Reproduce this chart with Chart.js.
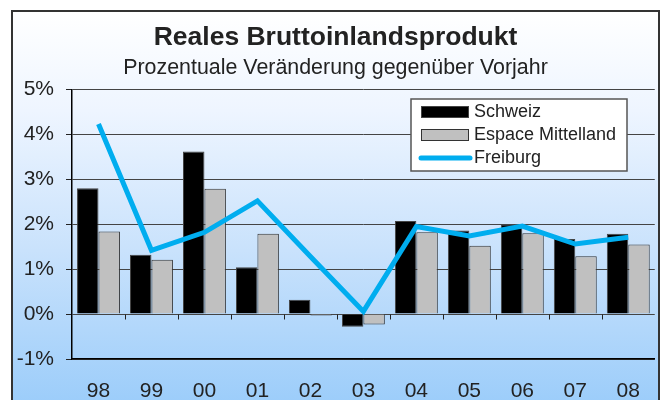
<!DOCTYPE html>
<html>
<head>
<meta charset="utf-8">
<script src="https://cdn.jsdelivr.net/npm/chart.js@4/dist/chart.umd.min.js"></script>
<style>
	html, body { margin: 0; padding: 0; background: #fff; }
	#wrap { width: 660px; height: 400px; }
</style>
</head>
<body>
<div id="wrap"><canvas id="chart" width="660" height="400"></canvas></div>
<script>
// values (percent change on previous year)
const years = ['98', '99', '00', '01', '02', '03', '04', '05', '06', '07', '08'];
const schweiz = [2.80, 1.32, 3.62, 1.04, 0.32, -0.28, 2.07, 1.86, 2.00, 1.67, 1.79];
const espaceMittelland = [1.84, 1.21, 2.79, 1.79, -0.03, -0.23, 1.82, 1.52, 1.80, 1.29, 1.55];
const freiburg = [4.23, 1.42, 1.82, 2.52, 1.28, 0.06, 1.95, 1.74, 1.96, 1.56, 1.71];
const yTicks = [-1, 0, 1, 2, 3, 4, 5];

const fontFamily = '"Liberation Sans", Arial, sans-serif';
const lineBlue = '#00adef';

// background gradient + frame
const backdrop = {
	id: 'backdrop',
	beforeDraw(chart) {
		const ctx = chart.ctx;
		ctx.save();
		ctx.fillStyle = '#ffffff';
		ctx.fillRect(0, 0, chart.width, chart.height);
		const g = ctx.createLinearGradient(0, 11, 0, 410);
		g.addColorStop(0, '#ffffff');
		g.addColorStop(0.25, '#eef5ff');
		g.addColorStop(0.6, '#c9e2fc');
		g.addColorStop(1, '#9accfa');
		ctx.fillStyle = g;
		ctx.fillRect(12, 11, chart.width - 12, chart.height - 11);
		ctx.strokeStyle = '#333';
		ctx.lineWidth = 2;
		ctx.beginPath();
		ctx.moveTo(12, chart.height + 2);
		ctx.lineTo(12, 11);
		ctx.lineTo(659, 11);
		ctx.lineTo(659, chart.height + 2);
		ctx.stroke();
		ctx.restore();
	}
};

// little category tick marks sitting on the 0% line
const zeroTicks = {
	id: 'zeroTicks',
	afterDatasetsDraw(chart) {
		const ctx = chart.ctx;
		const x = chart.scales.x, y = chart.scales.y;
		const y0 = Math.round(y.getPixelForValue(0)) + 0.5;
		const step = (x.right - x.left) / years.length;
		ctx.save();
		ctx.strokeStyle = '#222';
		ctx.lineWidth = 1;
		ctx.beginPath();
		for (let i = 1; i < years.length; i++) {
			const px = Math.round(x.left + i * step) + 0.5;
			ctx.moveTo(px, y0);
			ctx.lineTo(px, y0 + 5);
		}
		ctx.stroke();
		ctx.restore();
	}
};

// boxed legend inside the plot
const boxLegend = {
	id: 'boxLegend',
	afterDraw(chart) {
		const ctx = chart.ctx;
		const bx = 411, by = 99, bw = 216, bh = 72;
		ctx.save();
		ctx.fillStyle = '#ffffff';
		ctx.fillRect(bx, by, bw, bh);
		ctx.strokeStyle = '#555';
		ctx.lineWidth = 1.5;
		ctx.strokeRect(bx, by, bw, bh);
		ctx.font = '18px ' + fontFamily;
		ctx.textBaseline = 'middle';
		chart.data.datasets.forEach((ds, i) => {
			const cy = by + 13 + i * 23;
			if (ds.type === 'line') {
				ctx.strokeStyle = ds.borderColor;
				ctx.lineWidth = 5;
				ctx.lineCap = 'round';
				ctx.beginPath();
				ctx.moveTo(421, cy);
				ctx.lineTo(470, cy);
				ctx.stroke();
			} else {
				ctx.fillStyle = ds.backgroundColor;
				ctx.fillRect(421, cy - 6, 48, 12);
				ctx.strokeStyle = ds.borderColor;
				ctx.lineWidth = 1;
				ctx.strokeRect(421.5, cy - 5.5, 47, 11);
			}
			ctx.fillStyle = '#222';
			ctx.fillText(ds.label, 474, cy);
		});
		ctx.restore();
	}
};

new Chart(document.getElementById('chart'), {
	data: {
		labels: years,
		datasets: [
			{
				type: 'bar',
				label: 'Schweiz',
				data: schweiz,
				backgroundColor: '#000000',
				borderColor: '#444',
				borderWidth: 1,
				barPercentage: 1,
				categoryPercentage: 0.81,
				order: 2
			},
			{
				type: 'bar',
				label: 'Espace Mittelland',
				data: espaceMittelland,
				backgroundColor: '#c0c0c0',
				borderColor: '#333',
				borderWidth: 1,
				barPercentage: 1,
				categoryPercentage: 0.81,
				order: 2
			},
			{
				type: 'line',
				label: 'Freiburg',
				data: freiburg,
				borderColor: lineBlue,
				backgroundColor: lineBlue,
				borderWidth: 5,
				pointRadius: 0,
				tension: 0,
				order: 1
			}
		]
	},
	options: {
		responsive: false,
		animation: false,
		layout: { padding: { left: 12, right: 1, top: 12, bottom: 0 } },
		plugins: {
			legend: { display: false },
			tooltip: { enabled: false },
			title: {
				display: true,
				text: 'Reales Bruttoinlandsprodukt',
				color: '#222',
				font: { family: fontFamily, size: 26.5, weight: 'bold' },
				padding: { top: 10, bottom: 0 }
			},
			subtitle: {
				display: true,
				text: 'Prozentuale Veränderung gegenüber Vorjahr',
				color: '#222',
				font: { family: fontFamily, size: 21.4 },
				padding: { top: 1, bottom: 9 }
			}
		},
		scales: {
			x: {
				afterFit(scale) { scale.height = 41; },
				grid: { display: false, drawTicks: false },
				border: { display: true, color: '#000', width: 1.5 },
				ticks: {
					color: '#222',
					font: { family: fontFamily, size: 21 },
					padding: 20,
					maxRotation: 0
				}
			},
			y: {
				min: -1,
				max: 5,
				afterBuildTicks(scale) {
					scale.ticks = yTicks.map(v => ({ value: v }));
				},
				afterFit(scale) { scale.width = 60; },
				grid: {
					color: '#444',
					lineWidth: 1,
					tickLength: 6,
					tickColor: '#222'
				},
				border: { display: true, color: '#000', width: 1.5 },
				ticks: {
					color: '#222',
					font: { family: fontFamily, size: 21 },
					padding: 12,
					callback: v => v + '%'
				}
			}
		}
	},
	plugins: [backdrop, zeroTicks, boxLegend]
});
</script>
</body>
</html>
